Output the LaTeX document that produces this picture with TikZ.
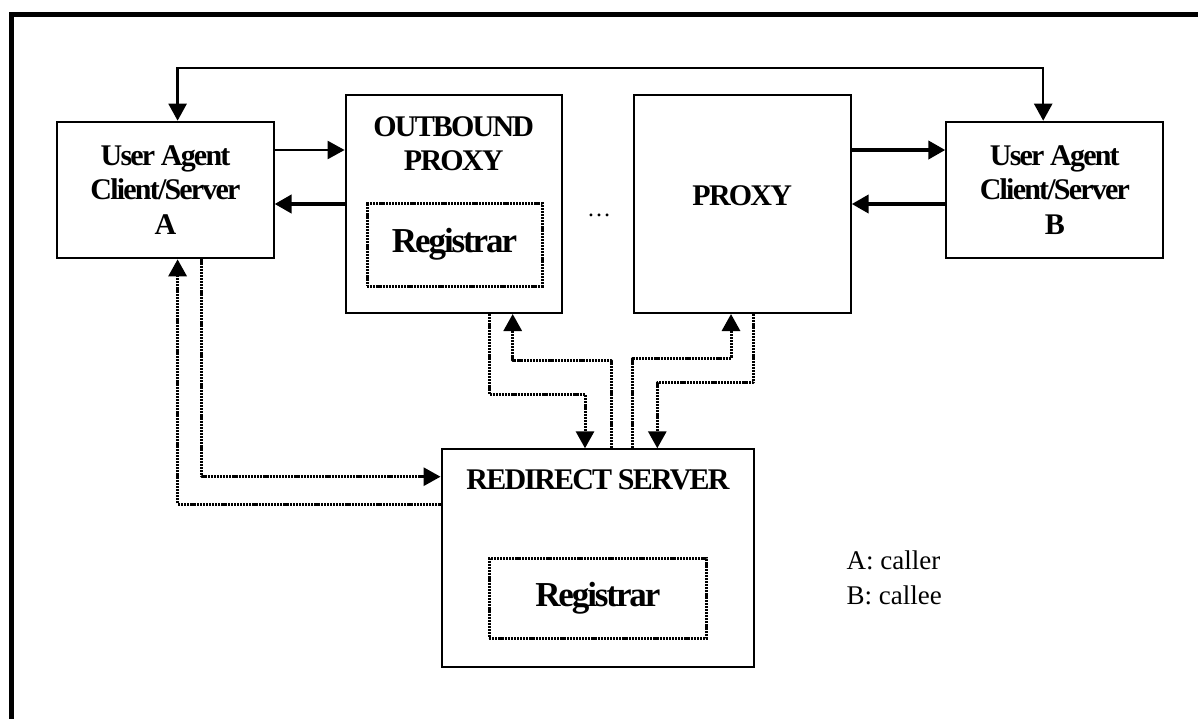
\documentclass[tikz,border=0pt]{standalone}
\usepackage{fontspec}
\setmainfont{Liberation Serif}
\newfontfamily\condfont[LetterSpace=-6]{Liberation Serif}
\usetikzlibrary{arrows.meta}
\newcommand\lblfont{\condfont\bfseries\fontsize{30}{34.3}\selectfont}
\newcommand\regfont{\condfont\bfseries\fontsize{35}{40}\selectfont}
\newcommand\legfont{\fontsize{27}{35}\selectfont}
\begin{document}
\begin{tikzpicture}[x=1pt,y=-1pt,
  box/.style={draw, line width=2pt, inner sep=0pt, align=center, font=\lblfont},
  regbox/.style={draw, line width=3pt, dash pattern=on 2.2pt off 0.9pt, inner sep=0pt, font=\regfont},
  lbl/.style={inner sep=0pt, align=center, font=\lblfont},
  tip/.style={-{Triangle[length=17pt,width=18pt]}},
  solidthin/.style={line width=2.4pt},
  solidthick/.style={line width=4pt},
  dotline/.style={line width=3pt, dash pattern=on 2.2pt off 0.9pt, line join=round},
]
\useasboundingbox (0,0) rectangle (1198,718);
% frame
\draw[line width=5pt, line join=miter] (11,740) -- (11,14) -- (1220,14);

% boxes
\node[box, minimum width=216.2pt, minimum height=136.6pt] (uaA) at (165.5,190) {User Agent\\Client/Server\\A};
\node[box, minimum width=216.2pt, minimum height=218pt] (ob) at (453.7,204) {};
\node[lbl, anchor=north] (obtitle) at (453.7,116.5) {OUTBOUND\\PROXY};
\node[regbox, minimum width=175pt, minimum height=83pt] (obreg) at (454.5,244.5) {Registrar};
\node[inner sep=0pt, font=\fontsize{24}{24}\selectfont, anchor=base] (dots) at (599,216) {\dots};
\node[box, minimum width=217pt, minimum height=218pt] (proxy) at (742.2,204) {};
\node[lbl, anchor=base] (proxytxt) at (742.2,205) {PROXY};
\node[box, minimum width=217pt, minimum height=136.6pt] (uaB) at (1054.8,190) {User Agent\\Client/Server\\B};
\node[box, minimum width=312.5pt, minimum height=217.4pt] (redir) at (597.8,558) {};
\node[lbl, anchor=base] (redtitle) at (598,489.3) {REDIRECT SERVER};
\node[regbox, minimum width=217.6pt, minimum height=80pt] (rreg) at (597.8,598.3) {Registrar};
\node[inner sep=0pt, anchor=north west, align=left, font=\legfont] (legend) at (846.5,551) {A: caller\\B: callee};

% top connector
\coordinate (topc) at (600,67.7);
\draw[solidthin, {Triangle[length=17pt,width=18pt]}-{Triangle[length=17pt,width=18pt]}]
  ([xshift=12.1pt]uaA.north) |- (topc) -| ([xshift=-11.6pt]uaB.north);

% horizontal connectors
\draw[solidthin, tip] ([yshift=40pt]uaA.east) -- ([yshift=40pt]uaA.east -| ob.west);
\draw[solidthick, tip] ([yshift=-14pt]uaA.east -| ob.west) -- ([yshift=-14pt]uaA.east);
\draw[solidthick, tip] ([yshift=40pt]uaB.west -| proxy.east) -- ([yshift=40pt]uaB.west);
\draw[solidthick, tip] ([yshift=-14pt]uaB.west) -- ([yshift=-14pt]uaB.west -| proxy.east);

% dotted connectors A <-> redirect
\draw[dotline, tip] ([yshift=54pt]redir.west) -| ([xshift=12.1pt]uaA.south);
\draw[dotline, tip] ([xshift=36.2pt]uaA.south) |- ([yshift=81.3pt]redir.west);

% dotted connectors outbound/proxy <-> redirect
\coordinate (lvA) at (0,394.3);
\coordinate (lvB) at (0,360);
\coordinate (lvC) at (0,358.3);
\coordinate (lvD) at (0,382.7);
\coordinate (obS1) at ([xshift=35.6pt]ob.south);
\coordinate (obS2) at ([xshift=59pt]ob.south);
\coordinate (rdN1) at ([xshift=-12.8pt]redir.north);
\coordinate (rdN2) at ([xshift=13.2pt]redir.north);
\coordinate (rdN3) at ([xshift=34.9pt]redir.north);
\coordinate (rdN4) at ([xshift=59.5pt]redir.north);
\coordinate (prS1) at ([xshift=-11.2pt]proxy.south);
\coordinate (prS2) at ([xshift=11.1pt]proxy.south);

\draw[dotline, tip] (obS1) -- (obS1 |- lvA) -| (rdN1);
\draw[dotline, tip] (rdN2) -- (rdN2 |- lvB) -| (obS2);
\draw[dotline, tip] (rdN3) -- (rdN3 |- lvC) -| (prS1);
\draw[dotline, tip] (prS2) -- (prS2 |- lvD) -| (rdN4);
\end{tikzpicture}
\end{document}
